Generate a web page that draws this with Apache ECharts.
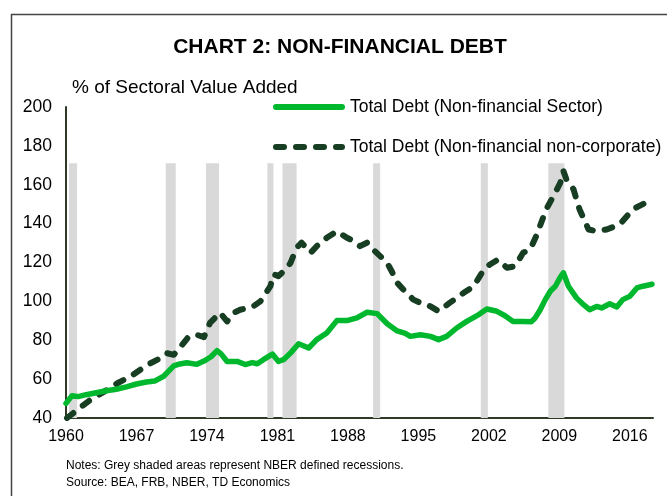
<!DOCTYPE html>
<html>
<head>
<meta charset="utf-8">
<script src="https://cdn.jsdelivr.net/npm/echarts@6/dist/echarts.min.js"></script>
<style>
html,body{margin:0;padding:0;background:#fff;}
#chart{width:667px;height:496px;}
</style>
</head>
<body>
<div id="chart"></div>
<script>
// Tick labels (x axis years, y axis values)
var xTickLabels = [1960, 1967, 1974, 1981, 1988, 1995, 2002, 2009, 2016];
var yTickLabels = [40, 60, 80, 100, 120, 140, 160, 180, 200];

// Series names
var sectorName = 'Total Debt (Non-financial Sector)';
var nonCorpName = 'Total Debt (Non-financial non-corporate)';

// Total Debt (Non-financial Sector)
var sectorYears = [1960.0,1960.6,1961.2,1962.0,1963.0,1964.0,1965.0,1966.0,1967.0,1968.0,1968.8,1969.7,1970.7,1971.3,1972.0,1973.0,1973.7,1974.4,1975.0,1975.4,1976.0,1977.0,1977.8,1978.5,1979.0,1979.6,1980.5,1981.1,1981.6,1982.4,1983.1,1984.1,1984.9,1985.9,1986.9,1987.9,1988.9,1989.9,1990.9,1991.9,1992.9,1993.7,1994.2,1995.2,1996.2,1997.0,1997.8,1998.8,1999.8,2001.0,2001.8,2002.8,2003.6,2004.4,2005.4,2006.2,2006.6,2007.1,2007.6,2008.1,2008.6,2009.1,2009.4,2009.9,2010.7,2011.4,2012.0,2012.7,2013.2,2014.0,2014.7,2015.3,2016.0,2016.7,2017.3,2018.2];
var sectorValues = [47.5,51.5,51,52,53,54,54.8,56,57.5,58.5,59,61.5,66.8,67.8,68.4,67.6,69.3,71.5,74.7,73,69.1,69.1,67.5,68.5,67.9,70,72.9,69.1,70,74,78.2,76,80.3,83.7,90.1,90.1,91.5,94.4,93.7,88.5,84.8,83.5,82,82.8,82,80.3,82,86.3,89.7,93.2,96.1,94.9,92.6,89.7,89.7,89.5,91.5,95.7,100.9,105.2,107.8,112.5,114.7,107.8,101.8,98.3,95.7,97.4,96.6,98.8,97.1,100.9,102.6,106.9,107.8,108.8];

// Total Debt (Non-financial non-corporate)
var nonCorpYears = [1960.1,1961.1,1962.4,1963.8,1965.1,1966.4,1968.1,1969.4,1970.0,1970.7,1971.2,1972.2,1973.0,1973.7,1974.3,1975.3,1976.0,1976.6,1977.3,1978.6,1979.3,1980.3,1980.6,1981.1,1981.8,1982.3,1982.9,1983.4,1984.3,1984.9,1985.9,1986.9,1987.9,1988.6,1989.2,1989.9,1990.5,1991.2,1991.9,1992.4,1992.9,1993.5,1994.5,1995.2,1996.2,1997.0,1998.1,1999.5,2000.5,2001.5,2002.1,2002.9,2003.8,2004.6,2005.4,2006.1,2006.7,2007.7,2008.6,2009.1,2009.4,2009.7,2010.4,2011.0,2011.9,2012.7,2013.7,2015.0,2016.3,2017.9,2018.2];
var nonCorpValues = [40,44.1,49.3,53.6,57.9,61.3,67.4,70.8,73.4,72.5,75.5,82,82.8,81.6,88.9,94.2,89.7,94,95.7,97.4,100,107.8,114,113,116.4,119.8,127.6,130.2,125,128.4,132.7,136.1,132.7,131,128.4,130.2,126.7,123.3,119.8,115,109.5,106.1,100.9,99.2,97.4,94.9,99.2,104.4,107.8,116.4,119,121.5,117.3,118.1,125,126.7,133.6,147.4,156,161.1,167.1,162.8,157.7,147.4,137,136.1,137,139.6,147.4,151.6,153];

// NBER recessions (start, end as decimal years)
var recessionStarts = [1960.3, 1969.9, 1973.9, 1980.0, 1981.5, 1990.5, 2001.2, 2007.9];
var recessionEnds   = [1961.1, 1970.9, 1975.2, 1980.6, 1982.9, 1991.2, 2001.9, 2009.5];
var recessionTop = 171;

function pairs(xs, ys){ return xs.map(function(x,i){ return [x, ys[i]]; }); }

var recessionAreas = recessionStarts.map(function(s,i){
  return [{xAxis: s, yAxis: 40}, {xAxis: recessionEnds[i], yAxis: recessionTop}];
});

var GREEN = '#00b82e', DARK = '#173d22';
var FONT = 'Liberation Sans, Arial, sans-serif';
var chart = echarts.init(document.getElementById('chart'), null, {renderer:'canvas'});
chart.setOption({
  animation: false,
  backgroundColor: '#fff',
  title: {
    text: 'CHART 2: NON-FINANCIAL DEBT',
    left: 335, top: 32, textAlign: 'center',
    textStyle: {fontFamily: FONT, fontWeight: 'bold', fontSize: 21, color: '#000'}
  },
  grid: {left: 66, right: 14, top: 107, bottom: 78, containLabel: false},
  xAxis: {
    type: 'value', min: 1960, max: 2018.3, interval: 7,
    axisLine: {show: true, lineStyle: {color: '#2f3a26', width: 2}},
    axisTick: {show: false}, splitLine: {show: false},
    axisLabel: {
      margin: 11, fontFamily: FONT, fontSize: 16, color: '#000',
      showMaxLabel: false,
      formatter: function(v){ return xTickLabels.indexOf(Math.round(v)) >= 0 && Math.abs(v - Math.round(v)) < 1e-6 ? String(Math.round(v)) : ''; }
    }
  },
  yAxis: {
    type: 'value', min: 40, max: 200, interval: 20,
    name: '% of Sectoral Value Added', nameGap: 10,
    nameTextStyle: {fontFamily: FONT, fontSize: 19, color: '#000', align: 'left', padding: [0,0,0,6]},
    axisLine: {show: true, onZero: false, lineStyle: {color: '#2f3a26', width: 2}},
    axisTick: {show: false}, splitLine: {show: false},
    axisLabel: {
      margin: 14, fontFamily: FONT, fontSize: 17.5, color: '#000',
      formatter: function(v){ return yTickLabels.indexOf(v) >= 0 ? String(v) : ''; }
    }
  },
  series: [
    {
      type: 'line', name: 'recessions', data: [], z: 1, silent: true,
      markArea: {silent: true, itemStyle: {color: '#d9d9d9'}, data: recessionAreas}
    },
    {
      type: 'line', name: sectorName, z: 4,
      data: pairs(sectorYears, sectorValues), showSymbol: false, symbol: 'none',
      lineStyle: {color: GREEN, width: 5.5, cap: 'round', join: 'round'}
    },
    {
      type: 'line', name: nonCorpName, z: 3,
      data: pairs(nonCorpYears, nonCorpValues), showSymbol: false, symbol: 'none',
      lineStyle: {color: DARK, width: 6, type: [8, 12], cap: 'round', join: 'round'}
    }
  ],
  graphic: [
    {type: 'rect', left: 9, top: 12, shape: {width: 700, height: 520}, style: {fill: 'none', stroke: '#444', lineWidth: 1.5}, z: -1, silent: true},
    {type: 'line', shape: {x1: 276, y1: 107, x2: 342, y2: 107}, style: {stroke: GREEN, lineWidth: 6, lineCap: 'round'}},
    {type: 'text', x: 350, y: 107, style: {text: sectorName, font: '17.5px Liberation Sans, Arial, sans-serif', fill: '#000', textVerticalAlign: 'middle', verticalAlign: 'middle'}},
    {type: 'line', shape: {x1: 276, y1: 147, x2: 342, y2: 147}, style: {stroke: DARK, lineWidth: 6, lineCap: 'round', lineDash: [8, 12]}},
    {type: 'text', x: 350, y: 147, style: {text: nonCorpName, font: '17.5px Liberation Sans, Arial, sans-serif', fill: '#000', textVerticalAlign: 'middle', verticalAlign: 'middle'}},
    {type: 'text', left: 66, top: 460, style: {text: 'Notes: Grey shaded areas represent NBER defined recessions.', font: '12px Liberation Sans, Arial, sans-serif', fill: '#000'}},
    {type: 'text', left: 66, top: 477, style: {text: 'Source: BEA, FRB, NBER, TD Economics', font: '12px Liberation Sans, Arial, sans-serif', fill: '#000'}}
  ]
});
</script>
</body>
</html>
